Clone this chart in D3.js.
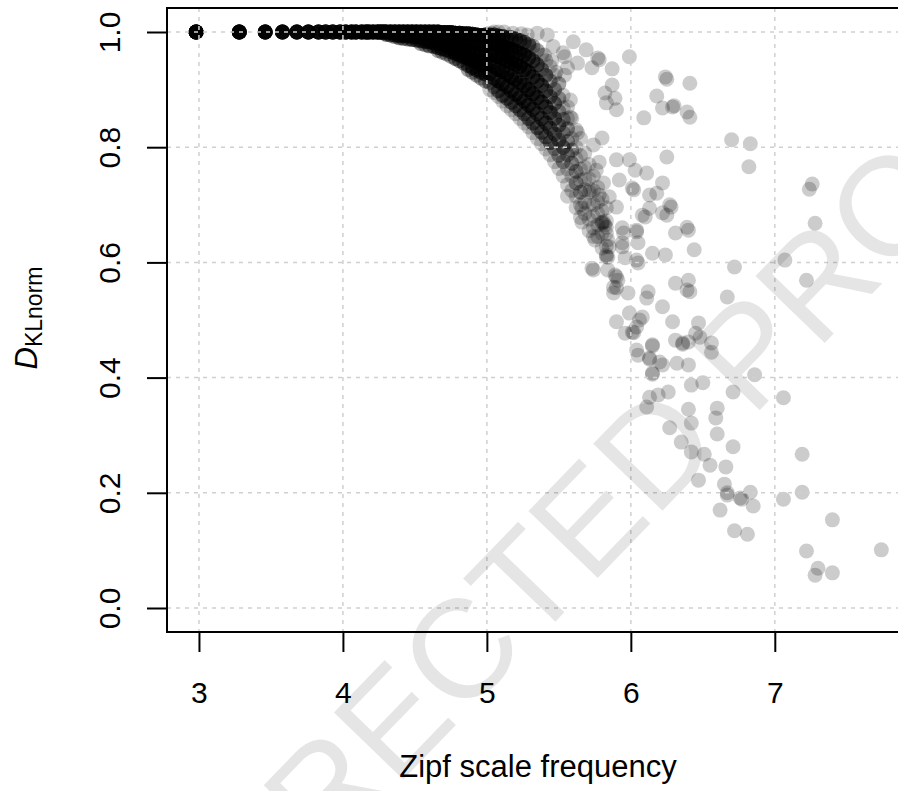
<!DOCTYPE html>
<html><head><meta charset="utf-8">
<script src="https://cdn.jsdelivr.net/npm/d3@7"></script>
<style>body{margin:0;background:#fff;overflow:hidden}</style>
</head><body>
<svg id="chart" width="898" height="791"></svg>
<script>
// ---- data ----
// words with D_KLnorm = 1 at the low-frequency end (Zipf value, number of words stacked)
const topRowZipf  = [2.98,3.28,3.46,3.58,3.68,3.76,3.83,3.88,3.93,3.98,4.02,4.06,4.09,4.13,4.16,4.18,4.21,4.24,4.26,4.28];
const topRowCount = [25,20,18,16,15,15,14,14,14,14,14,14,14,14,14,14,14,14,14,14];
const topRowDkl   = 1.0;

// dense band: [Zipf, [[D_KLnorm, number of words], ...]]
const bandColumns = [
 [4.30,[[1.0,14],[0.996,4]]],
 [4.33,[[1.0,14],[0.995,4]]],
 [4.36,[[1.0,14],[0.995,4],[0.992,2]]],
 [4.39,[[1.0,14],[0.994,5],[0.99,3]]],
 [4.42,[[1.0,14],[0.994,5],[0.989,3]]],
 [4.45,[[1.0,14],[0.993,5],[0.988,3]]],
 [4.48,[[1.0,14],[0.993,5],[0.987,4]]],
 [4.51,[[1.0,14],[0.992,6],[0.986,4]]],
 [4.54,[[1.0,12],[0.992,6],[0.985,4],[0.98,2]]],
 [4.57,[[1.0,12],[0.991,6],[0.984,5],[0.978,2]]],
 [4.60,[[1.0,12],[0.99,6],[0.983,5],[0.976,3]]],
 [4.63,[[1.0,12],[0.99,6],[0.982,5],[0.975,3]]],
 [4.66,[[1.0,12],[0.99,6],[0.982,5],[0.973,4],[0.968,2]]],
 [4.69,[[0.999,12],[0.989,6],[0.98,6],[0.971,4],[0.965,2]]],
 [4.72,[[0.999,12],[0.988,6],[0.978,6],[0.969,4],[0.962,2]]],
 [4.75,[[0.999,12],[0.987,6],[0.976,6],[0.966,4],[0.958,2]]],
 [4.78,[[0.998,12],[0.986,6],[0.974,6],[0.963,5],[0.954,3]]],
 [4.81,[[0.998,12],[0.985,6],[0.972,6],[0.96,5],[0.95,3]]],
 [4.84,[[0.997,10],[0.984,6],[0.97,6],[0.957,5],[0.946,3]]],
 [4.87,[[0.997,10],[0.983,6],[0.968,6],[0.954,5],[0.942,3],[0.935,2]]],
 [4.90,[[0.996,10],[0.982,6],[0.966,6],[0.951,5],[0.938,4],[0.93,2]]],
 [4.93,[[0.995,10],[0.98,6],[0.963,6],[0.948,6],[0.934,4],[0.925,2]]],
 [4.96,[[0.994,10],[0.978,6],[0.96,6],[0.944,6],[0.93,4],[0.92,2]]],
 [4.99,[[0.995,8],[0.978,6],[0.96,6],[0.943,6],[0.927,4],[0.915,2]]],
 [5.02,[[0.995,6],[0.98,6],[0.963,6],[0.945,5],[0.928,4],[0.912,2],[0.90,1]]],
 [5.05,[[0.995,5],[0.98,6],[0.96,6],[0.94,5],[0.92,4],[0.905,2],[0.895,1]]],
 [5.08,[[0.993,5],[0.977,7],[0.957,7],[0.935,6],[0.915,5],[0.898,3],[0.888,1]]],
 [5.11,[[0.992,5],[0.975,7],[0.955,7],[0.932,6],[0.91,5],[0.89,3],[0.88,1]]],
 [5.14,[[0.99,4],[0.972,7],[0.95,7],[0.928,6],[0.905,5],[0.885,3],[0.872,1]]],
 [5.17,[[0.99,4],[0.97,7],[0.947,7],[0.922,6],[0.898,5],[0.878,3],[0.865,1]]],
 [5.20,[[0.988,4],[0.967,6],[0.944,7],[0.918,6],[0.892,5],[0.872,3],[0.858,1]]],
 [5.23,[[0.985,4],[0.963,6],[0.94,7],[0.912,6],[0.886,5],[0.865,3],[0.85,1]]],
 [5.26,[[0.982,3],[0.96,6],[0.935,6],[0.907,6],[0.88,5],[0.858,3],[0.842,1]]],
 [5.29,[[0.978,3],[0.955,5],[0.93,6],[0.9,6],[0.873,5],[0.85,3],[0.835,1]]],
 [5.32,[[0.975,2],[0.95,4],[0.922,5],[0.893,6],[0.866,5],[0.842,3],[0.825,1]]],
 [5.35,[[0.968,2],[0.943,4],[0.915,5],[0.886,5],[0.858,4],[0.834,3],[0.815,1]]],
 [5.38,[[0.96,1],[0.935,3],[0.907,4],[0.878,5],[0.85,4],[0.826,3],[0.806,1]]],
 [5.41,[[0.95,1],[0.925,3],[0.898,4],[0.87,4],[0.842,4],[0.818,3],[0.797,1]]],
 [5.44,[[0.94,1],[0.915,2],[0.888,3],[0.86,4],[0.833,3],[0.808,3],[0.787,1]]],
 [5.47,[[0.925,1],[0.9,2],[0.876,3],[0.85,3],[0.823,3],[0.798,2],[0.775,1]]],
 [5.50,[[0.91,1],[0.885,2],[0.862,2],[0.838,3],[0.812,3],[0.786,2],[0.763,1]]],
 [5.53,[[0.89,1],[0.868,1],[0.848,2],[0.825,2],[0.80,3],[0.775,2],[0.75,1]]],
 [5.56,[[0.87,1],[0.85,1],[0.832,2],[0.81,2],[0.787,2],[0.762,1],[0.735,1],[0.715,1]]],
 [5.59,[[0.85,1],[0.815,1],[0.795,2],[0.772,2],[0.75,1],[0.725,1]]],
 [5.62,[[0.83,1],[0.80,1],[0.78,1],[0.758,2],[0.738,2],[0.715,1],[0.695,1]]],
 [5.65,[[0.815,1],[0.785,1],[0.762,1],[0.742,1],[0.722,2],[0.70,1],[0.678,1]]],
 [5.68,[[0.79,1],[0.765,1],[0.745,1],[0.726,1],[0.705,1],[0.685,1]]],
 [5.71,[[0.77,1],[0.745,1],[0.722,1],[0.70,1],[0.675,1],[0.655,1]]],
 [5.74,[[0.75,1],[0.725,1],[0.70,1],[0.68,1],[0.66,1],[0.645,1]]],
 [5.77,[[0.73,1],[0.705,1],[0.685,1],[0.665,1],[0.645,1]]],
 [5.80,[[0.71,1],[0.69,1],[0.668,1],[0.65,1],[0.625,1]]],
 [5.83,[[0.695,1],[0.672,1],[0.65,1],[0.628,1],[0.61,1]]]
];

// individual words outside the dense band
const sparseZipf = [
 5.35,5.42,5.60,5.69,5.77,5.78,5.99,5.73,5.87,5.53,5.56,5.54,5.87,5.82,5.89,5.83,5.90,6.24,6.25,6.41,
 6.18,6.22,6.29,6.30,6.39,6.41,6.09,6.70,6.83,6.82,7.26,7.24,7.28,7.07,7.22,6.72,6.67,5.58,5.63,5.54,
 5.45,5.48,5.40,5.30,5.46,5.50,5.58,5.63,5.08,5.12,5.18,5.24,5.28,5.05,5.03,
 5.80,5.74,5.90,5.99,6.25,6.03,6.11,5.92,6.01,6.02,6.22,6.13,6.18,6.27,6.28,6.13,6.22,6.25,5.90,6.08,
 6.39,6.40,6.31,6.04,6.04,5.81,5.82,5.83,5.75,5.84,5.94,5.94,6.05,6.44,6.15,6.24,6.04,6.05,5.73,5.84,
 5.83,5.66,5.66,5.72,5.76,5.78,5.78,5.85,5.81,5.80,5.94,5.96,6.10,5.95,
 5.74,5.84,5.89,5.90,5.91,5.88,5.90,5.88,5.98,6.12,6.11,6.31,6.40,6.41,6.39,6.22,5.99,6.08,5.90,6.01,
 6.02,5.96,6.04,6.06,6.29,6.47,6.45,6.48,6.31,6.36,6.36,6.40,6.15,6.15,6.04,6.05,6.13,6.13,6.20,6.22,
 6.32,6.40,6.15,6.15,6.56,6.56,6.42,6.50,6.86,6.71,6.26,6.19,6.13,6.11,6.40,6.60,6.59,6.42,6.27,6.60,
 6.35,6.42,6.51,6.71,7.06,6.55,6.66,6.47,6.65,6.67,6.67,6.76,6.77,6.83,6.85,6.62,6.72,6.81,7.19,7.19,
 7.06,7.40,7.22,7.30,7.28,7.40,7.74,5.85
];
const sparseDkl = [
 0.998,0.995,0.983,0.969,0.955,0.952,0.957,0.938,0.936,0.964,0.938,0.925,0.908,0.894,0.885,0.877,0.865,0.922,0.918,0.911,
 0.889,0.868,0.870,0.872,0.861,0.852,0.851,0.813,0.806,0.766,0.736,0.727,0.668,0.604,0.569,0.592,0.540,0.882,0.946,0.957,
 0.950,0.930,0.960,0.975,0.975,0.910,0.852,0.825,1.0,1.0,0.998,0.997,0.995,1.0,0.998,
 0.816,0.804,0.778,0.778,0.783,0.760,0.755,0.743,0.729,0.726,0.738,0.717,0.720,0.700,0.696,0.694,0.686,0.682,0.696,0.682,
 0.661,0.656,0.651,0.656,0.653,0.670,0.665,0.661,0.639,0.639,0.660,0.634,0.634,0.622,0.616,0.613,0.604,0.599,0.590,0.609,
 0.613,0.670,0.694,0.726,0.760,0.774,0.717,0.714,0.738,0.670,0.627,0.608,0.679,0.651,
 0.587,0.587,0.578,0.575,0.569,0.557,0.556,0.547,0.547,0.549,0.538,0.564,0.569,0.549,0.552,0.523,0.512,0.505,0.497,0.479,
 0.478,0.477,0.488,0.500,0.497,0.495,0.477,0.470,0.465,0.460,0.458,0.462,0.457,0.455,0.448,0.439,0.434,0.432,0.427,0.422,
 0.425,0.422,0.408,0.406,0.460,0.444,0.387,0.391,0.405,0.375,0.375,0.370,0.366,0.349,0.345,0.347,0.330,0.321,0.313,0.302,
 0.288,0.271,0.267,0.280,0.365,0.248,0.245,0.222,0.215,0.200,0.196,0.191,0.189,0.201,0.177,0.170,0.134,0.128,0.267,0.201,
 0.189,0.153,0.099,0.069,0.057,0.061,0.101,0.627
];

const xTicks = [3,4,5,6,7];
const yTicks = [0.0,0.2,0.4,0.6,0.8,1.0];
const xTitle = "Zipf scale frequency";
const watermark = "UNCORRECTED PROOF";

// ---- build point table ----
const points = [];
topRowZipf.forEach((z,i)=>{ for(let k=0;k<topRowCount[i];k++) points.push({z:z,d:topRowDkl}); });
bandColumns.forEach(([z,cells])=>cells.forEach(([d,n])=>{ for(let k=0;k<n;k++) points.push({z:z,d:d}); }));
sparseZipf.forEach((z,i)=>points.push({z:z,d:sparseDkl[i]}));

// ---- chart ----
const FONT = "'Liberation Sans', Arial, Helvetica, sans-serif";
const svg = d3.select("#chart").style("font-family", FONT);
const L = 167, T = 8, B = 632, R = 913;
const x = d3.scaleLinear().domain([2.778, 7.96]).range([L, R]);
const y = d3.scaleLinear().domain([-0.041667, 1.041667]).range([B, T]);

svg.append("clipPath").attr("id","plotclip").append("rect")
  .attr("x",L).attr("y",T).attr("width",R-L).attr("height",B-T);

const plot = svg.append("g").attr("clip-path","url(#plotclip)");
plot.append("g").selectAll("circle").data(points).join("circle")
  .attr("cx",d=>x(d.z)).attr("cy",d=>y(d.d)).attr("r",7.5)
  .attr("fill","#000").attr("fill-opacity",0.2);

// grid (drawn over the points)
const grid = plot.append("g").attr("stroke","#d0d0d0").attr("stroke-width",1.5).attr("stroke-dasharray","4,5");
grid.selectAll(".gx").data(xTicks).join("line").attr("class","gx")
  .attr("x1",d=>x(d)).attr("x2",d=>x(d)).attr("y1",T).attr("y2",B);
grid.selectAll(".gy").data(yTicks).join("line").attr("class","gy")
  .attr("x1",L).attr("x2",R).attr("y1",d=>y(d)).attr("y2",d=>y(d));

// box
svg.append("rect").attr("x",L).attr("y",T).attr("width",R-L).attr("height",B-T)
  .attr("fill","none").attr("stroke","#000").attr("stroke-width",2);

// x axis
const xAxis = svg.append("g").attr("transform",`translate(0,${B})`)
  .call(d3.axisBottom(x).tickValues(xTicks).tickSize(20).tickPadding(30).tickFormat(d3.format("d")));
xAxis.select(".domain").remove();
xAxis.selectAll(".tick line").attr("stroke","#000").attr("stroke-width",2);
xAxis.selectAll("text").attr("font-size",30).attr("font-family",FONT).attr("fill","#000");

// y axis
const yAxis = svg.append("g").attr("transform",`translate(${L},0)`)
  .call(d3.axisLeft(y).tickValues(yTicks).tickSize(20).tickFormat(d3.format(".1f")));
yAxis.select(".domain").remove();
yAxis.selectAll(".tick line").attr("stroke","#000").attr("stroke-width",2);
yAxis.selectAll("text").attr("font-size",30).attr("font-family",FONT).attr("fill","#000")
  .attr("x",0).attr("dy",0).attr("text-anchor","middle")
  .attr("transform","translate(-47,0) rotate(-90)");

// axis titles
svg.append("text").attr("x",538).attr("y",777).attr("text-anchor","middle")
  .attr("font-size",31).attr("fill","#000").text(xTitle);
const yl = svg.append("text").attr("transform","translate(37,318) rotate(-90)")
  .attr("text-anchor","middle").attr("fill","#000");
yl.append("tspan").attr("font-size",31).attr("font-style","italic").text("D");
yl.append("tspan").attr("font-size",23).attr("dy",5).text("KLnorm");

// watermark
svg.append("text").attr("transform","translate(533,645) rotate(-46)")
  .attr("text-anchor","middle").attr("font-size",140).attr("fill","#000").attr("fill-opacity",0.1)
  .text(watermark);
</script>
</body></html>
